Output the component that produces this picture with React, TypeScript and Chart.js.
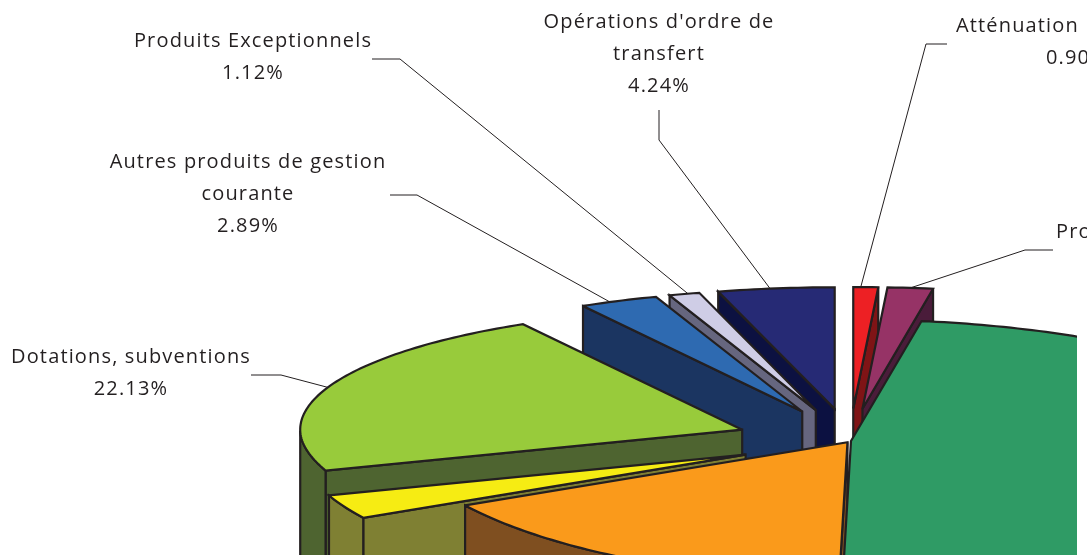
import React, { useEffect, useRef } from "react";
import { Chart, registerables } from "chart.js";

Chart.register(...registerables);

// Shares, clockwise from 12 o'clock. Only the labelled ones are printed on the reference.
const categories = [
  "Atténuation",
  "Pro",
  "Impôts",
  "Orange",
  "Jaune",
  "Dotations, subventions",
  "Autres produits de gestion courante",
  "Produits Exceptionnels",
  "Opérations d'ordre de transfert",
];
const shares = [0.9, 1.65, 47.68, 16.32, 2.94, 22.13, 2.89, 1.12, 4.24];
const explode = [115, 115, 1, 5, 115, 115, 115, 115, 115];
const topColors = ["#ED2024", "#963366", "#2F9B65", "#FA9A1B", "#F6EC13", "#98CB3B", "#2E6AB1", "#CFCDE6", "#262A75"];
const wallColors = ["#7F1416", "#4A1C3A", "#1A5A3A", "#7F4F20", "#7F8033", "#4E6430", "#1B3561", "#66667F", "#0C1141"];
const paintOrder = [8, 7, 6, 5, 4, 0, 1, 3, 2];

const labelLines: string[][] = [
  ["Atténuation", "0.90%"],
  ["Pro"],
  [],
  [],
  [],
  ["Dotations, subventions", "22.13%"],
  ["Autres produits de gestion", "courante", "2.89%"],
  ["Produits Exceptionnels", "1.12%"],
  ["Opérations d'ordre de", "transfert", "4.24%"],
];
// Each line: [x, centre y]. Then leader start, bend and where along the slice's rim it lands.
const labelLayout: ({ at: number[][]; align: CanvasTextAlign; from: number[]; bend: number[]; along: number } | null)[] = [
  { at: [[956, 26], [1046, 58]], align: "left", from: [947, 44], bend: [926, 44], along: 0.3 },
  { at: [[1056, 232]], align: "left", from: [1053, 250], bend: [1025, 250], along: 0.5 },
  null,
  null,
  null,
  { at: [[131, 357], [131, 389]], align: "center", from: [251, 375], bend: [281, 375], along: 0.5 },
  { at: [[248, 162], [248, 194], [248, 226]], align: "center", from: [390, 195], bend: [417, 195], along: 0.38 },
  { at: [[253, 41], [253, 73]], align: "center", from: [372, 59], bend: [400, 59], along: 0.62 },
  { at: [[659, 22], [659, 54], [659, 86]], align: "center", from: [659, 110], bend: [659, 140], along: 0.45 },
];

const BACK_SQUASH = 0.275;
const FRONT_LINEAR = 0.26;
const FRONT_CURVE = 0.05;
const DEPTH = 160;
const INK = "#231f20";
const PIE_CLIP = 1077;
const TEXT_CLIP = 1087;
const FONT = '20px "Open Sans", sans-serif';

const sliceGeometry = (el: any) => {
  const { x, y, startAngle, endAngle, outerRadius } = el;
  const mid = (startAngle + endAngle) / 2;
  const e = el.options.offset || 0;
  const ox = x + e * Math.cos(mid);
  const oy = y + 0.282 * e * Math.sin(mid);
  const at = (a: number) => {
    const s = Math.sin(a);
    const dy = s >= 0 ? FRONT_LINEAR * s + FRONT_CURVE * s * s : BACK_SQUASH * s;
    return [ox + outerRadius * Math.cos(a), oy + outerRadius * dy];
  };
  const rim: number[][] = [];
  const angles: number[] = [];
  const n = Math.max(2, Math.ceil(((endAngle - startAngle) * 180) / Math.PI));
  for (let i = 0; i <= n; i++) {
    const a = startAngle + ((endAngle - startAngle) * i) / n;
    angles.push(a);
    rim.push(at(a));
  }
  return { tip: [ox, oy], rim, angles, at, startAngle, endAngle, mid };
};

const paintFace = (ctx: CanvasRenderingContext2D, pts: number[][], fill: string) => {
  ctx.beginPath();
  pts.forEach((p, i) => (i ? ctx.lineTo(p[0], p[1]) : ctx.moveTo(p[0], p[1])));
  ctx.closePath();
  ctx.fillStyle = fill;
  ctx.fill();
  ctx.stroke();
};

const down = (p: number[]) => [p[0], p[1] + DEPTH];

const pie3d = {
  id: "pie3d",
  beforeDatasetDraw(chart: any) {
    const ctx: CanvasRenderingContext2D = chart.ctx;
    const arcs = chart.getDatasetMeta(0).data;
    ctx.save();
    ctx.beginPath();
    ctx.rect(0, 0, PIE_CLIP, 555);
    ctx.clip();
    ctx.strokeStyle = INK;
    ctx.lineWidth = 2.2;
    ctx.lineJoin = "miter";
    ctx.miterLimit = 3;
    paintOrder.forEach((i) => {
      const g = sliceGeometry(arcs[i]);
      const wall = wallColors[i];
      const first = g.rim[0];
      const last = g.rim[g.rim.length - 1];
      // Chart.js angles run clockwise on screen; a face shows when its normal points down.
      if (Math.cos(g.startAngle) < -1e-6) paintFace(ctx, [g.tip, first, down(first), down(g.tip)], wall);
      if (Math.cos(g.endAngle) > 1e-6) paintFace(ctx, [g.tip, last, down(last), down(g.tip)], wall);
      const seen = g.rim.filter((_, k) => Math.sin(g.angles[k]) > -1e-6);
      if (seen.length > 1) paintFace(ctx, [...seen, ...seen.slice().reverse().map(down)], wall);
      paintFace(ctx, [g.tip, ...g.rim], topColors[i]);
    });
    ctx.restore();
    return false;
  },
  afterDatasetsDraw(chart: any) {
    const ctx: CanvasRenderingContext2D = chart.ctx;
    const arcs = chart.getDatasetMeta(0).data;
    ctx.save();
    ctx.beginPath();
    ctx.rect(0, 0, TEXT_CLIP, 555);
    ctx.clip();
    labelLayout.forEach((l, i) => {
      if (!l) return;
      const g = sliceGeometry(arcs[i]);
      const end = g.at(g.startAngle + (g.endAngle - g.startAngle) * l.along);
      ctx.beginPath();
      ctx.moveTo(l.from[0], l.from[1]);
      ctx.lineTo(l.bend[0], l.bend[1]);
      ctx.lineTo(end[0], end[1]);
      ctx.strokeStyle = INK;
      ctx.lineWidth = 1;
      ctx.stroke();
      ctx.font = FONT;
      (ctx as any).letterSpacing = "1.15px";
      ctx.fillStyle = INK;
      ctx.textAlign = l.align;
      ctx.textBaseline = "middle";
      labelLines[i].forEach((t, k) => ctx.fillText(t, l.at[k][0], l.at[k][1]));
    });
    ctx.restore();
  },
};

export default function App() {
  const ref = useRef<HTMLCanvasElement>(null);
  useEffect(() => {
    const chart = new Chart(ref.current as HTMLCanvasElement, {
      type: "pie",
      data: {
        labels: categories,
        datasets: [{ data: shares, backgroundColor: topColors, offset: explode, borderWidth: 0 } as any],
      },
      options: {
        responsive: false,
        animation: false,
        radius: 442,
        layout: { padding: 0 },
        plugins: { legend: { display: false }, tooltip: { enabled: false } },
      } as any,
      plugins: [pie3d],
    });
    return () => chart.destroy();
  }, []);
  return (
    <div style={{ position: "fixed", left: 0, top: 0, width: 1090, height: 555, overflow: "hidden", background: "#fff" }}>
      <canvas ref={ref} width={1700} height={882} style={{ display: "block" }} />
    </div>
  );
}
